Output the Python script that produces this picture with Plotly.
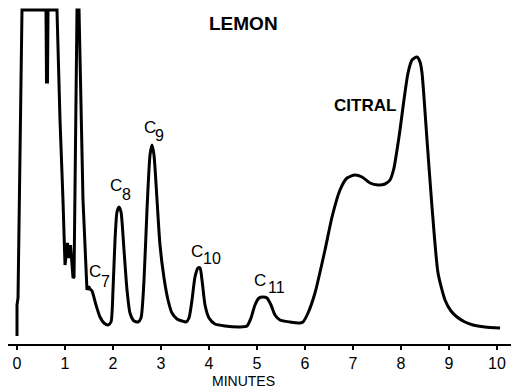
import plotly.graph_objects as go

# --- Data (time in minutes, detector response in arbitrary units) ---
# Solvent / off-scale front section
front_time = [0.0, 0.0, 0.021, 0.104, 0.604, 0.615, 0.635, 0.646, 0.833, 0.896, 0.958,
              1.0, 1.052, 1.083, 1.115, 1.167, 1.188, 1.25, 1.292, 1.375, 1.458]
front_resp = [8, 39, 46, 334, 334, 262, 262, 334, 334, 224, 144,
              79, 101, 86, 99, 66, 67, 334, 334, 144, 54]

# Resolved peaks section
peak_time = [1.458, 1.5, 1.521, 1.563, 1.646, 1.729, 1.813, 1.896, 1.958, 2.0, 2.042,
             2.083, 2.125, 2.167, 2.229, 2.292, 2.354, 2.438, 2.521, 2.583, 2.646,
             2.708, 2.771, 2.813, 2.854, 2.917, 2.979, 3.063, 3.146, 3.229, 3.333,
             3.438, 3.521, 3.583, 3.646, 3.708, 3.771, 3.813, 3.854, 3.917, 4.0,
             4.125, 4.333, 4.646, 4.792, 4.875, 4.958, 5.042, 5.125, 5.208, 5.292,
             5.375, 5.479, 5.688, 5.896, 5.958, 6.063, 6.208, 6.417, 6.563, 6.729,
             6.875, 7.042, 7.188, 7.354, 7.521, 7.667, 7.771, 7.854, 7.917, 7.979,
             8.042, 8.146, 8.229, 8.333, 8.396, 8.438, 8.542, 8.646, 8.771, 8.917,
             9.042, 9.167, 9.333, 9.5, 9.75, 10.063]
peak_resp = [54, 57, 55, 53, 39, 27, 21, 19, 22, 54, 104,
             132, 137, 132, 94, 54, 31, 23, 22, 26, 64,
             134, 189, 199, 189, 144, 99, 66, 44, 31, 25,
             23, 22, 26, 44, 67, 76, 76, 64, 39, 26,
             20, 18, 17, 18, 26, 39, 46, 47, 46, 39,
             29, 24, 22, 21, 22, 31, 51, 94, 127, 154,
             166, 169, 167, 161, 159, 160, 164, 176, 194, 214,
             237, 271, 284, 287, 282, 271, 204, 137, 71, 44,
             33, 27, 22, 19, 17, 16]

tick_vals = [0, 1, 2, 3, 4, 5, 6, 7, 8, 9, 10]
tick_text = ["0", "1", "2", "3", "4", "5", "6", "7", "8", "9", "10"]

title_text = "LEMON"
citral_text = "CITRAL"
x_title = "MINUTES"
peak_base = "C"
peak_subs = ["7", "8", "9", "10", "11"]

# --- Figure ---
FONT = "Liberation Sans"
line_style = dict(color="black", width=3)

fig = go.Figure()
fig.add_trace(go.Scatter(x=front_time, y=front_resp, mode="lines",
                         line=dict(**line_style, shape="linear"),
                         hoverinfo="skip", showlegend=False))
fig.add_trace(go.Scatter(x=peak_time, y=peak_resp, mode="lines",
                         line=dict(**line_style, shape="spline", smoothing=0.6),
                         hoverinfo="skip", showlegend=False))

annotations = []
annotations.append(dict(x=4.719, y=321, xref="x", yref="y", text="<b>" + title_text + "</b>",
                        showarrow=False, font=dict(family=FONT, size=19, color="black")))
annotations.append(dict(x=7.26, y=239, xref="x", yref="y", text="<b>" + citral_text + "</b>",
                        showarrow=False, font=dict(family=FONT, size=17, color="black")))

# label centres (minutes, response units)
c_pos = [(1.625, 73), (2.052, 159), (2.771, 217), (3.75, 93), (5.06, 64)]
sub_pos = [(1.854, 63), (2.281, 150), (2.979, 209), (4.06, 86), (5.40, 57)]
for (cx, cy), (sx, sy), sub in zip(c_pos, sub_pos, peak_subs):
    annotations.append(dict(x=cx, y=cy, xref="x", yref="y", text=peak_base,
                            showarrow=False, font=dict(family=FONT, size=17, color="black")))
    annotations.append(dict(x=sx, y=sy, xref="x", yref="y", text=sub,
                            showarrow=False, font=dict(family=FONT, size=16, color="black")))

annotations.append(dict(x=4.719, y=0, xref="x", yref="paper", text=x_title,
                        showarrow=False, yanchor="middle", yshift=-37,
                        font=dict(family=FONT, size=14, color="black")))

fig.update_layout(
    width=511, height=390,
    margin=dict(l=8, r=0, t=0, b=46),
    paper_bgcolor="white", plot_bgcolor="white",
    showlegend=False,
    annotations=annotations,
    xaxis=dict(range=[-0.1875, 10.2917], tickmode="array", tickvals=tick_vals,
               ticktext=tick_text, showgrid=False, zeroline=False,
               showline=True, linecolor="black", linewidth=2,
               ticks="outside", ticklen=4, tickwidth=2, tickcolor="black",
               tickfont=dict(family=FONT, size=16, color="black")),
    yaxis=dict(range=[0, 344], visible=False, showgrid=False, zeroline=False),
)

fig.write_html("out.html")
